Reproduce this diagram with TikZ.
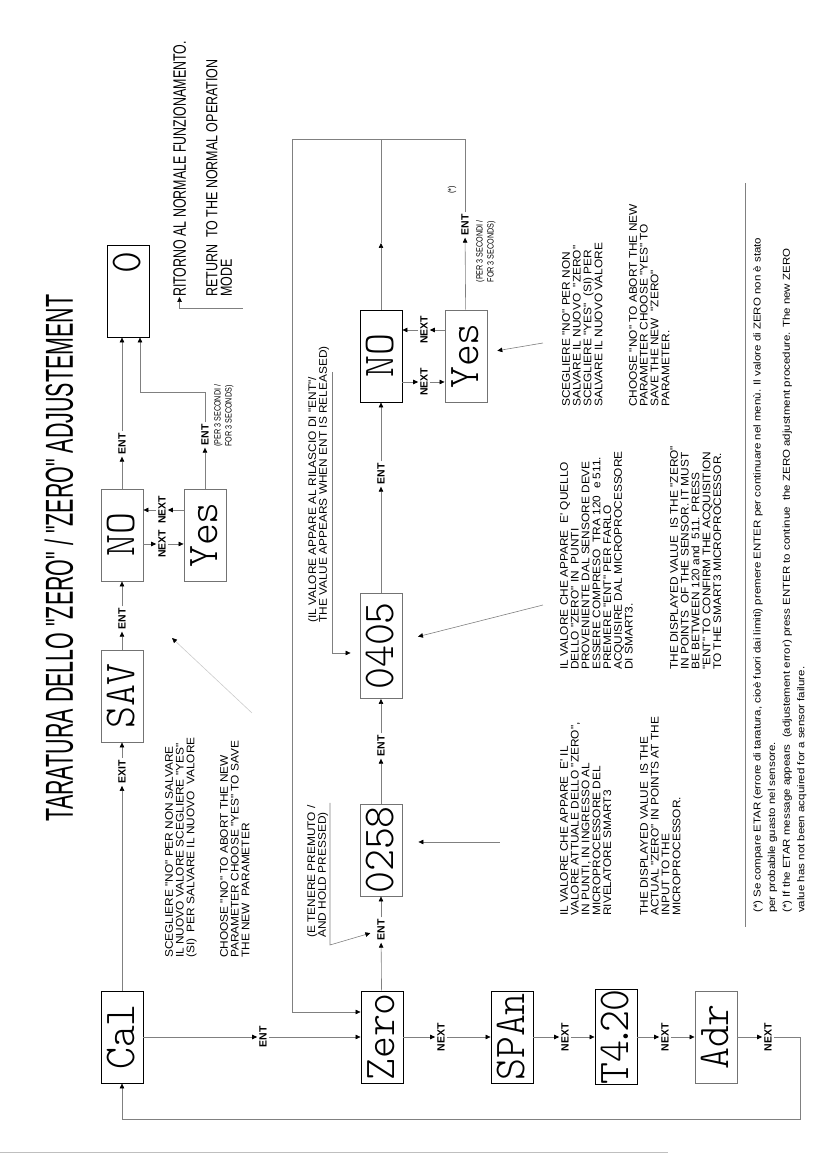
\documentclass[tikz,border=0pt]{standalone}
\usepackage{fontspec}
\setmainfont{Liberation Sans}
\newfontfamily\txtfont[FakeStretch=1.08]{Liberation Sans}
\newfontfamily\lblfont{Liberation Sans}
\newfontfamily\subfont[FakeStretch=0.8]{Liberation Sans}
\newfontfamily\bigfont[FakeStretch=0.69]{Liberation Sans}
\newfontfamily\retfont[FakeStretch=0.78]{Liberation Sans}
\newfontfamily\titlefont[FakeStretch=0.55]{Liberation Sans}
\newfontfamily\notefont[FakeStretch=1.15]{Liberation Sans}
\newfontfamily\dispfont{lmmonolt10-regular}[Extension=.otf,FakeStretch=0.95]
\usetikzlibrary{arrows.meta,positioning}

\begin{document}
\begin{tikzpicture}[x=1pt,y=1pt,rotate=90,transform shape,
  disp/.style={draw,line width=0.9pt,minimum width=92pt,minimum height=42pt,inner sep=0pt,
    text height=26pt,text depth=0pt,font=\dispfont\fontsize{44}{44}\selectfont},
  displt/.style={disp,draw=black!55},
  lbl/.style={inner sep=2pt,font=\lblfont\bfseries\fontsize{10.5}{10.5}\selectfont},
  sub/.style={inner sep=0pt,align=left,font=\subfont\fontsize{9}{11}\selectfont},
  txt/.style={anchor=north west,inner sep=0pt,align=left,font=\txtfont\fontsize{11}{10.8}\selectfont},
  wire/.style={draw=black!50,line width=0.6pt},
  conn/.style={wire,-{Triangle[length=5pt,width=4.5pt,color=black]}}]
\useasboundingbox (0,0) rectangle (1156,818);

\node[inner sep=0pt,font=\titlefont\fontsize{39}{39}\selectfont] (title) at (598,759) {TARATURA DELLO "ZERO" / "ZERO" ADJUSTEMENT};

\node[disp] (cal) at (119,696) {Cal};
\node[disp] (zero) at (119,436) {Zero};
\node[disp] (span) at (119,306) {SPAn};
\node[disp] (tqv) at (119,202) {T4\kern-7pt.\kern-7pt20};
\node[displt] (adr) at (119,102) {Adr};
\node[lbl] (ent0) at (119,555) {ENT};
\node[lbl] (nx1) at (119,377) {NEXT};
\node[lbl] (nx2) at (119,253) {NEXT};
\node[lbl] (nx3) at (119,153) {NEXT};
\node[lbl] (nx4) at (119,50) {NEXT};
\coordinate (lp) at (37,18);
\draw[conn] (cal) -- (ent0);
\draw[conn] (ent0) -- (zero);
\draw[conn] (zero) -- (nx1);
\draw[conn] (nx1) -- (span);
\draw[conn] (span) -- (nx2);
\draw[conn] (nx2) -- (tqv);
\draw[conn] (tqv) -- (nx3);
\draw[conn] (nx3) -- (adr);
\draw[conn] (adr) -- (nx4);
\draw[conn] (nx4) -- (nx4 |- lp) -- (lp) |- (cal);

\node[lbl] (exit) at (384,696) {EXIT};
\node[displt] (sav) at (460,696) {SAV};
\node[lbl] (ent1) at (537,696) {ENT};
\node[displt] (noa) at (621,696) {NO};
\node[displt] (yesa) at (621,613) {Yes};
\node[lbl] (ent2) at (712,696) {ENT};
\node[disp,text width=78pt,align=right] (zb) at (865,690) {0};
\node[lbl] (ent3) at (721,613) {ENT};
\node[sub,anchor=north west] (per1) at (709,604) {(PER 3 SECONDI /\\FOR 3 SECONDS)};
\node[lbl] (nxa) at (612,656) {NEXT};
\node[lbl] (nxb) at (646,656) {NEXT};
\coordinate (kb) at (764,678);
\draw[conn] (cal) -- (exit);
\draw[conn] (exit) -- (sav);
\draw[conn] (sav) -- (ent1);
\draw[conn] (ent1) -- (noa);
\draw[conn] (noa) -- (ent2);
\draw[conn] (ent2) -- (ent2 -| zb.west);
\draw[conn] (yesa) -- (ent3);
\draw[conn] (ent3) -- (ent3 -| kb) |- (zb.west |- kb);
\draw[conn] (noa.south -| nxa) -- (nxa);
\draw[conn] (nxa) -- (yesa.north -| nxa);
\draw[conn] (yesa.north -| nxb) -- (nxb);
\draw[conn] (nxb) -- (noa.south -| nxb);

\node[anchor=north west,inner sep=0pt,font=\bigfont\fontsize{18}{18}\selectfont] (rit) at (859,645) {RITORNO AL NORMALE FUNZIONAMENTO.};
\node[anchor=north west,inner sep=0pt,align=left,font=\retfont\fontsize{16}{14.5}\selectfont] (ret) at (859,612) {RETURN\ \ TO THE NORMAL OPERATION\\MODE};
\coordinate (rb) at (848,575);
\draw[conn] (rb) |- (rit.west);

\node[displt] (v1) at (306,437) {0258};
\node[displt,minimum width=105pt] (v2) at (510,437) {0405};
\node[disp] (nob) at (800,437) {NO};
\node[displt] (yesb) at (800,352) {Yes};
\node[lbl] (ent4) at (226,437) {ENT};
\node[lbl] (ent5) at (410,437) {ENT};
\node[lbl] (ent6) at (682,437) {ENT};
\node[lbl] (nxc) at (774,394) {NEXT};
\node[lbl] (nxd) at (826,394) {NEXT};
\node[lbl] (ent7) at (931,353) {ENT};
\node[sub,anchor=north east] (per2) at (936,342) {(PER 3 SECONDI /\\FOR 3 SECONDS)};
\node[sub] (ast) at (966,366) {(*)};
\coordinate (rc) at (1017,526);
\coordinate (zc) at (144,526);
\coordinate (nm) at (913,437);
\draw[conn] (zero) -- (ent4);
\draw[conn] (ent4) -- (v1);
\draw[conn] (v1) -- (ent5);
\draw[conn] (ent5) -- (v2);
\draw[conn] (v2) -- (ent6);
\draw[conn] (ent6) -- (nob);
\draw[conn] (nob.south -| nxc) -- (nxc);
\draw[conn] (nxc) -- (yesb.north -| nxc);
\draw[conn] (yesb.north -| nxd) -- (nxd);
\draw[conn] (nxd) -- (nob.south -| nxd);
\draw[conn] (yesb) -- (ent7);
\draw[conn] (ent7) -- (ent7 -| rc) -- (rc) -- (zc) -- (zc |- zero.north);
\draw[conn] (nob) -- (nm);
\draw[wire] (nm) -- (nm -| rc);

\node[txt] (hold1) at (218,511) {(E TENERE PREMUTO /\\AND HOLD PRESSED)};
\coordinate (u1) at (211,488);
\coordinate (u1e) at (353,488);
\draw[conn,shorten >=5pt] (u1e) -- (u1) -- (ent4);
\node[txt] (hold2) at (533,510) {(IL VALORE APPARE AL RILASCIO DI "ENT"/\\THE VALUE APPEARS WHEN ENT IS RELEASED)};
\coordinate (u2) at (503,486);
\coordinate (u2e) at (784,486);
\draw[conn,shorten >=9pt] (u2e) -- (u2) -- (u2 |- v2.north);

\node[txt] (cala) at (198,653) {SCEGLIERE "NO" PER NON SALVARE\\IL NUOVO VALORE SCEGLIERE "YES"\\(SI)\ \ PER SALVARE IL NUOVO\ \ VALORE};
\node[txt] (calb) at (198,598) {CHOOSE "NO" TO ABORT THE NEW\\PARAMETER CHOOSE "YES" TO SAVE\\THE NEW\ \ PARAMETER};
\node[txt] (zra) at (240,258) {IL VALORE CHE APPARE\ \ E' IL\\VALORE ATTUALE DELLO "ZERO",\\IN PUNTI, IN INGRESSO AL\\MICROPROCESSORE DEL\\RIVELATORE SMART3};
\node[txt] (zrb) at (240,178) {THE DISPLAYED VALUE\ \ IS THE\\ACTUAL "ZERO" IN POINTS AT THE\\INPUT TO THE\\MICROPROCESSOR.};
\node[txt] (vla) at (486,258) {IL VALORE CHE APPARE\ \ E' QUELLO\\DELLO "ZERO" IN\ \ PUNTI\\PROVENIENTE DAL SENSORE DEVE\\ESSERE COMPRESO\ \ TRA 120\ \ e 511.\\PREMERE "ENT" PER FARLO\\ACQUISIRE DAL MICROPROCESSORE\\DI SMART3.};
\node[txt] (vlb) at (486,148) {THE DISPLAYED VALUE\ \ IS THE "ZERO"\\IN POINTS\ \ OF THE SENSOR. IT MUST\\BE BETWEEN 120 and\ \ 511. PRESS\\"ENT" TO CONFIRM THE ACQUISITION\\TO THE SMART3 MICROPROCESSOR.};
\node[txt] (ysa) at (749,256) {SCEGLIERE "NO" PER NON\\SALVARE IL NUOVO\ \ "ZERO"\\SCEGLIERE "YES"\ \ (SI) PER\\SALVARE IL NUOVO VALORE};
\node[txt] (ysb) at (749,189) {CHOOSE "NO" TO ABORT THE NEW\\PARAMETER CHOOSE "YES" TO\\SAVE THE NEW\ \ "ZERO"\\PARAMETER.};
\coordinate (pa) at (443,566);
\coordinate (pe) at (518,646);
\coordinate (pb) at (314,318);
\coordinate (pc) at (551,275);
\coordinate (pd) at (813,275);
\draw[conn,draw=black!20] (pa) -- (pe);
\draw[conn,shorten >=16pt] (pb) -- (pb |- v1.south);
\draw[conn,shorten >=16pt] (pc) -- (v2);
\draw[conn,shorten >=10pt] (pd) -- (yesb);

\coordinate (s1) at (229,73);
\coordinate (s2) at (973,73);
\draw[wire] (s1) -- (s2);
\node[anchor=north west,inner sep=0pt,align=left,font=\notefont\fontsize{10}{14.6}\selectfont] (note) at (243,65) {(*) Se compare ETAR (errore di taratura, cioè fuori dai limiti) premere ENTER per continuare nel menù. Il valore di ZERO non è stato\\per probabile guasto nel sensore.\\(*) If the ETAR message appears\ \ (adjustement error) press ENTER to continue\ \ the ZERO adjustment procedure. The new ZERO\\value has not been acquired for a sensor failure.};
\coordinate (e1) at (3,818);
\coordinate (e2) at (3,150);
\draw[black!25,line width=1pt] (e1) -- (e2);
\end{tikzpicture}
\end{document}
